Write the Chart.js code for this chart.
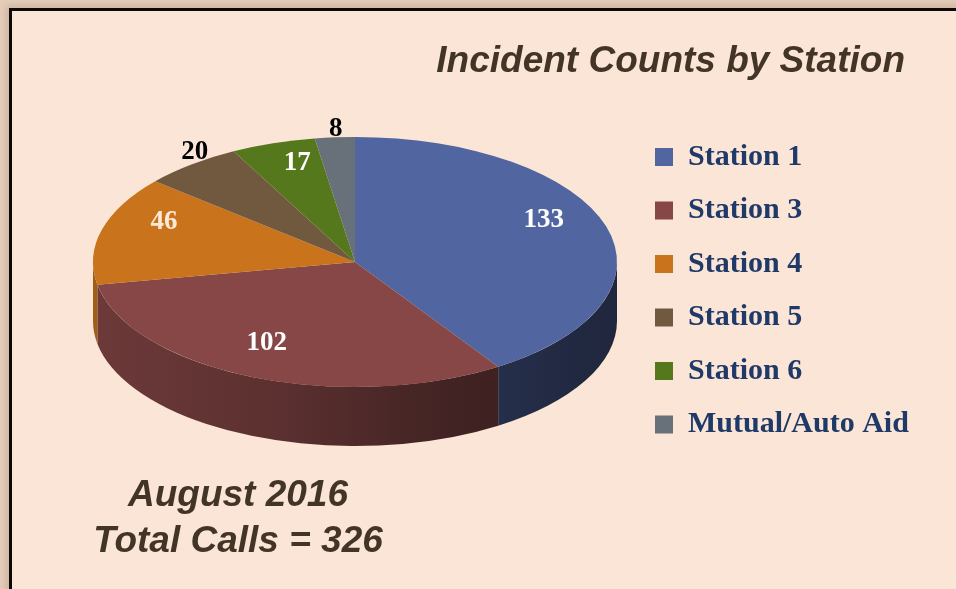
<!DOCTYPE html>
<html>
<head>
<meta charset="utf-8">
<script src="https://cdn.jsdelivr.net/npm/chart.js@4"></script>
<style>
  html, body { margin: 0; padding: 0; width: 956px; height: 589px; overflow: hidden; background: #E4CDBA; }
  #frame { position: absolute; left: 9px; top: 8px; width: 1000px; height: 700px; background: #FBE5D6;
           border: 3px solid #0C0A08; box-shadow: 0 0 7px 3px #CFB49E; }
  #c { position: absolute; left: 0; top: 0; }
</style>
</head>
<body>
<div id="frame"></div>
<canvas id="c" width="956" height="589"></canvas>
<script>
// ---- data ----
const categories = ['Station 1', 'Station 3', 'Station 4', 'Station 5', 'Station 6', 'Mutual/Auto Aid'];
const counts = [133, 102, 46, 20, 17, 8];
const sliceColors = ['#5165A1', '#884747', '#C9731D', '#715940', '#56781D', '#687179'];
const labelColors = ['#FFFFFF', '#FFFFFF', '#FCE9D6', '#000000', '#FFFFFF', '#000000'];
const labelPlacement = ['inside', 'inside', 'inside', 'outside', 'inside', 'outside'];
const titleText = 'Incident Counts by Station';
const subtitleLines = ['August 2016', 'Total Calls = 326'];

// ---- geometry / style ----
const TX = 355, TY = 262, RX = 262, RY = 125, DEPTH = 59;
// perspective-like placement for value labels
const APEX_Y = 246, PA = 122.3, PB = 0.1325, PC = 260;
const legendFontFamily = "'Liberation Serif', serif";
const legendFontSize = 30;
const legendBoxX = 655;

function rgbOf(hex) {
  const n = parseInt(hex.slice(1), 16);
  return [(n >> 16) & 255, (n >> 8) & 255, n & 255];
}
function shade(hex, f) {
  const [r, g, b] = rgbOf(hex);
  return `rgb(${Math.round(r * f)},${Math.round(g * f)},${Math.round(b * f)})`;
}

const pie3d = {
  id: 'pie3d',
  beforeDatasetsDraw(chart) {
    const ctx = chart.ctx;
    const meta = chart.getDatasetMeta(0);
    meta.data.forEach((arc, i) => {
      const s = Math.max(arc.startAngle, 0);
      const e = Math.min(arc.endAngle, Math.PI);
      if (e <= s) return;
      const col = sliceColors[i];
      const g = ctx.createLinearGradient(TX - RX, 0, TX + RX, 0);
      g.addColorStop(0, shade(col, 0.80));
      g.addColorStop(0.35, shade(col, 0.68));
      g.addColorStop(0.65, shade(col, 0.50));
      g.addColorStop(1, shade(col, 0.38));
      ctx.beginPath();
      ctx.ellipse(TX, TY, RX, RY, 0, s, e, false);
      ctx.ellipse(TX, TY + DEPTH, RX, RY, 0, e, s, true);
      ctx.closePath();
      ctx.fillStyle = g;
      ctx.fill();
    });
    const a = meta.data[0];
    ctx.save();
    ctx.translate(TX, TY);
    ctx.scale(RX / a.outerRadius, RY / a.outerRadius);
    ctx.translate(-a.x, -a.y);
  },
  afterDatasetsDraw(chart) {
    const ctx = chart.ctx;
    ctx.restore();
    const meta = chart.getDatasetMeta(0);
    ctx.save();
    ctx.font = "bold 27px 'Liberation Serif', serif";
    ctx.textAlign = 'center';
    ctx.textBaseline = 'middle';
    meta.data.forEach((arc, i) => {
      const mid = (arc.startAngle + arc.endAngle) / 2;
      const f = labelPlacement[i] === 'inside' ? 0.78 : 1.1;
      const u = f * Math.cos(mid), v = f * Math.sin(mid);
      const d = 1 - PB * v;
      const x = TX + PC * u / d;
      const y = APEX_Y + PA * v / d;
      ctx.fillStyle = labelColors[i];
      ctx.fillText(String(chart.data.datasets[0].data[i]), x, y);
    });
    ctx.restore();
  },
  afterDraw(chart) {
    const ctx = chart.ctx;
    ctx.save();
    ctx.fillStyle = '#433428';
    ctx.font = "italic bold 37px 'Liberation Sans', sans-serif";
    ctx.textBaseline = 'alphabetic';
    ctx.textAlign = 'right';
    ctx.fillText(titleText, 905, 72);
    ctx.textAlign = 'center';
    ctx.fillText(subtitleLines[0], 238, 506);
    ctx.fillText(subtitleLines[1], 238, 552);
    ctx.restore();
  }
};

// measure the widest legend label to place the legend
const mctx = document.createElement('canvas').getContext('2d');
mctx.font = `bold ${legendFontSize}px ${legendFontFamily}`;
const maxLabelW = Math.max(...categories.map(t => mctx.measureText(t).width));
const legendPad = 23.5;
const legendLeft = legendBoxX - legendPad;
const legendWidth = legendPad + 18 + legendFontSize / 2 + maxLabelW + 10;
const padRight = 956 - legendLeft - legendWidth;

new Chart(document.getElementById('c'), {
  type: 'pie',
  data: {
    labels: categories,
    datasets: [{
      data: counts,
      backgroundColor: sliceColors,
      borderWidth: 0
    }]
  },
  options: {
    responsive: false,
    animation: false,
    devicePixelRatio: 1,
    layout: { padding: { left: 0, top: 0, right: padRight, bottom: 7.5 } },
    plugins: {
      tooltip: { enabled: false },
      title: { display: false },
      legend: {
        display: true,
        position: 'right',
        align: 'center',
        labels: {
          boxWidth: 18,
          boxHeight: 18,
          padding: legendPad,
          color: '#1F3A68',
          font: { family: legendFontFamily, size: legendFontSize, weight: 'bold' }
        }
      }
    }
  },
  plugins: [pie3d]
});
</script>
</body>
</html>
